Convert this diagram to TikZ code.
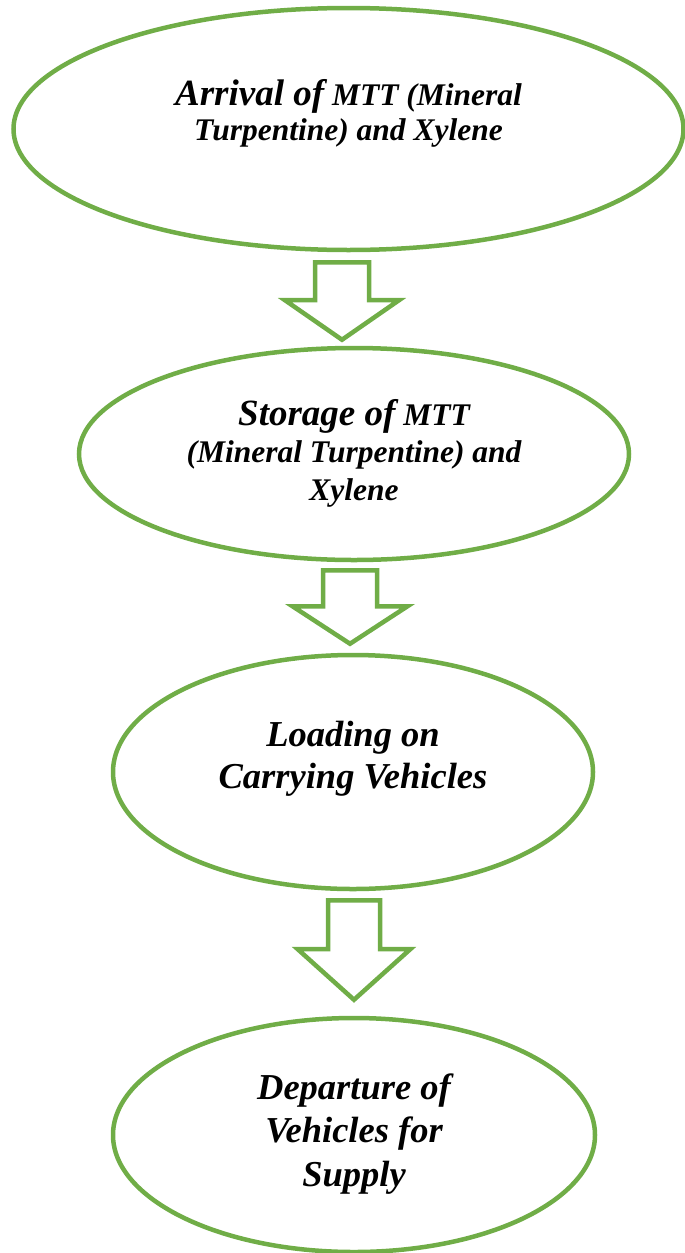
\documentclass[tikz,border=0pt]{standalone}
\usepackage{fontspec}
\setmainfont{Liberation Serif}
\usetikzlibrary{shapes.geometric}
\usetikzlibrary{calc}
\definecolor{flowgreen}{RGB}{112,173,71}
\newcommand{\lgsize}{\fontsize{37}{41}\selectfont}
\newcommand{\mdsize}{\fontsize{31.5}{35}\selectfont}
\tikzset{stage/.style={draw=flowgreen, line width=4.5pt, ellipse, inner sep=0pt}}
\tikzset{stagetext/.style={align=center, inner sep=0pt, font=\bfseries\itshape\mdsize}}
\tikzset{blockarr/.style={draw=flowgreen, line width=4.5pt, fill=white, line join=miter}}

\begin{document}
\begin{tikzpicture}[x=1pt, y=-1pt]
        \useasboundingbox (0,0) rectangle (685,1253);

        \node[stage, minimum width=670pt, minimum height=242pt] (arrival) at (348.5,129) {};
        \node[stage, minimum width=550pt, minimum height=212pt] (storage) at (354,454) {};
        \node[stage, minimum width=480pt, minimum height=234pt] (loading) at (353,772) {};
        \node[stage, minimum width=482pt, minimum height=234pt] (departure) at (354,1135) {};

        \node[stagetext, yshift=16pt] (arrivaltext) at (arrival.center)
            {{\lgsize Arrival of} MTT (Mineral\\Turpentine) and Xylene};
        \node[stagetext, yshift=1pt, font=\bfseries\itshape\fontsize{31.5}{37.5}\selectfont]
            (storagetext) at (storage.center)
            {{\lgsize Storage of} MTT\\(Mineral Turpentine) and\\Xylene};
        \node[stagetext, yshift=13pt, font=\bfseries\itshape\fontsize{36.5}{42}\selectfont]
            (loadingtext) at (loading.center) {Loading on\\Carrying Vehicles};
        \node[stagetext, yshift=1pt, font=\bfseries\itshape\fontsize{36.5}{43.5}\selectfont]
            (departuretext) at (departure.center) {Departure of\\Vehicles for\\Supply};

        % block arrows between the stages
        \foreach \from/\to/\cx/\ga/\gb/\sw/\hw in {arrival/storage/342/10/6/27/57,
                storage/loading/350/8/9/27/57.5, loading/departure/354/9/16/26/56.5}
          \draw[blockarr] let \p1=(\from.south), \p2=(\to.north), \p3=(\cx,0),
                \n1={\y1-\ga pt}, \n2={\y2+\gb pt}, \n3={\n1-0.49*(\n1-\n2)} in
            (\x3-\sw pt,\n1) -- (\x3+\sw pt,\n1) -- (\x3+\sw pt,\n3) -- (\x3+\hw pt,\n3)
            -- (\x3,\n2) -- (\x3-\hw pt,\n3) -- (\x3-\sw pt,\n3) -- cycle;
    \end{tikzpicture}
\end{document}
